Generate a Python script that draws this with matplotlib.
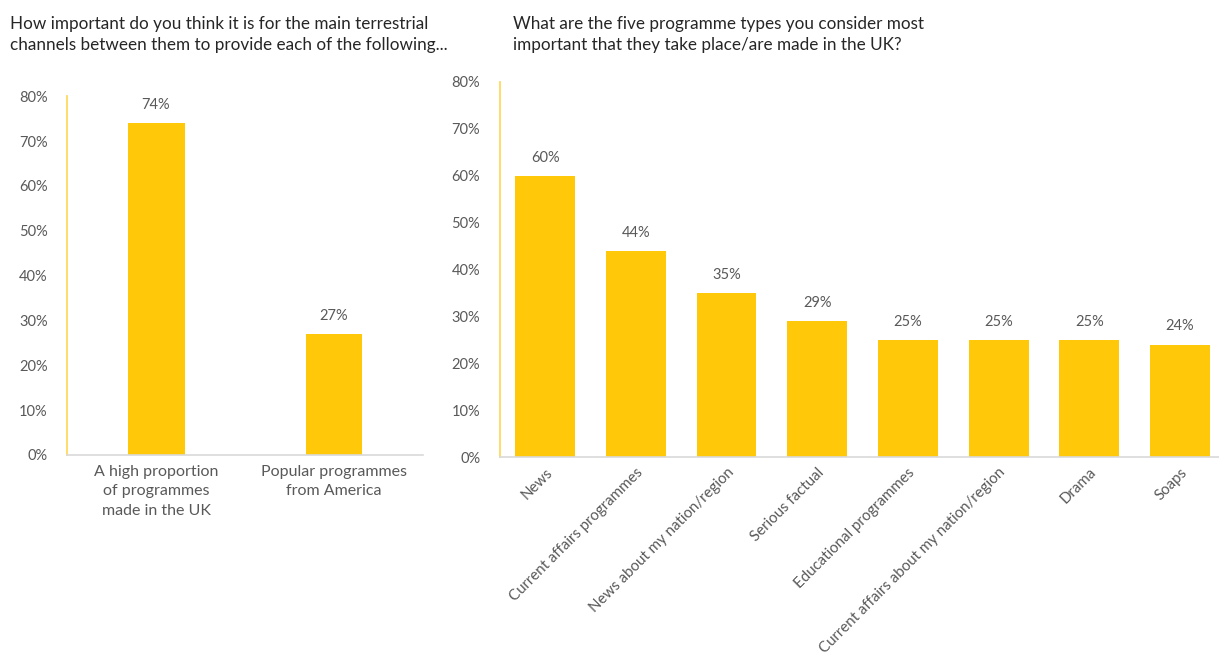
import numpy as np
import matplotlib.pyplot as plt

plt.rcParams['font.family'] = ['Lato', 'DejaVu Sans']

left_title = "How important do you think it is for the main terrestrial\nchannels between them to provide each of the following..."
left_cats = ["A high proportion\nof programmes\nmade in the UK", "Popular programmes\nfrom America"]
left_vals = [74, 27]

right_title = "What are the five programme types you consider most\nimportant that they take place/are made in the UK?"
right_cats = ["News", "Current affairs programmes", "News about my nation/region",
              "Serious factual", "Educational programmes",
              "Current affairs about my nation/region", "Drama", "Soaps"]
right_vals = [60, 44, 35, 29, 25, 25, 25, 24]

yticks = [0, 10, 20, 30, 40, 50, 60, 70, 80]

BAR = '#FFC90A'
TXT = '#595959'

fig = plt.figure(figsize=(12.19, 6.59), dpi=100)


def style(ax):
    ax.set_ylim(0, 80)
    ax.set_yticks(yticks)
    ax.set_yticklabels([f'{t}%' for t in yticks], color=TXT, fontsize=10.5)
    ax.tick_params(axis='both', length=0)
    ax.tick_params(axis='y', pad=14)
    for s in ['top', 'right']:
        ax.spines[s].set_visible(False)
    ax.spines['left'].set_color('#FFD54F')
    ax.spines['left'].set_linewidth(1.2)
    ax.spines['bottom'].set_color('#D9D9D9')
    ax.spines['bottom'].set_linewidth(1.2)


ax1 = fig.add_axes([0.055, 0.3096, 0.292, 0.5444])
x1 = np.arange(len(left_cats))
b1 = ax1.bar(x1, left_vals, width=0.32, color=BAR)
ax1.set_xlim(-0.5, 1.5)
style(ax1)
ax1.set_xticks(x1)
ax1.set_xticklabels(left_cats, color=TXT, fontsize=11.5, linespacing=1.5)
ax1.tick_params(axis='x', pad=7)
for r, v in zip(b1, left_vals):
    ax1.annotate(f'{v}%', (r.get_x() + r.get_width() / 2, v), xytext=(0, 8),
                 textcoords='offset points', ha='center', va='bottom',
                 color=TXT, fontsize=10.5)

ax2 = fig.add_axes([0.410, 0.3065, 0.59, 0.5691])
x2 = np.arange(len(right_cats))
b2 = ax2.bar(x2, right_vals, width=0.66, color=BAR)
ax2.set_xlim(-0.5, 7.43)
style(ax2)
ax2.set_xticks(x2)
ax2.set_xticklabels(right_cats, color=TXT, fontsize=10.8, rotation=45,
                    ha='right', rotation_mode='anchor')
ax2.tick_params(axis='x', pad=6)
for r, v in zip(b2, right_vals):
    ax2.annotate(f'{v}%', (r.get_x() + r.get_width() / 2, v), xytext=(0, 8),
                 textcoords='offset points', ha='center', va='bottom',
                 color=TXT, fontsize=10.5)

fig.text(0.008, 0.975, left_title, ha='left', va='top', fontsize=12.3,
         color='#262626', linespacing=1.35)
fig.text(0.421, 0.975, right_title, ha='left', va='top', fontsize=12.3,
         color='#262626', linespacing=1.35)

fig.savefig('out.png', dpi=100)
